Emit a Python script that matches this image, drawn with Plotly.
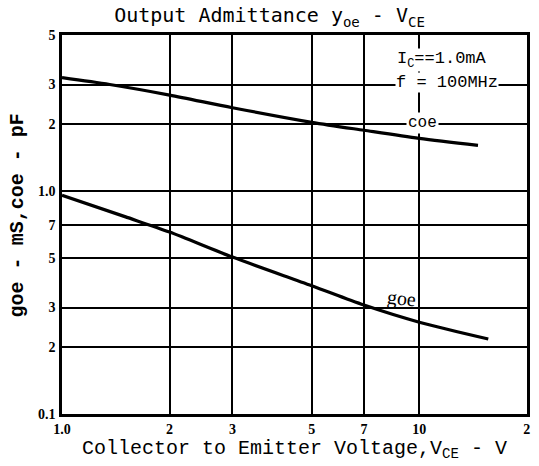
import plotly.graph_objects as go

# ---- data ----
vce_coe = [1.0, 1.36, 2, 3, 5, 7, 10, 14.6]
coe_pf = [3.22, 3.0, 2.69, 2.36, 2.03, 1.87, 1.72, 1.6]

vce_goe = [1.0, 1.5, 2, 3, 5, 7, 10, 15.6]
goe_ms = [0.957, 0.767, 0.654, 0.505, 0.376, 0.308, 0.258, 0.217]

x_tickvals = [1, 2, 3, 5, 7, 10, 20]
x_ticktext = ["1.0", "2", "3", "5", "7", "10", "2"]
y_tickvals = [0.1, 0.2, 0.3, 0.5, 0.7, 1.0, 2, 3, 5]
y_ticktext = ["0.1", "2", "3", "5", "7", "1.0", "2", "3", "5"]

fig = go.Figure()
fig.add_trace(go.Scatter(x=vce_coe, y=coe_pf, mode="lines",
                         line=dict(color="black", width=3.2, shape="spline", smoothing=0.8),
                         showlegend=False, hoverinfo="skip"))
fig.add_trace(go.Scatter(x=vce_goe, y=goe_ms, mode="lines",
                         line=dict(color="black", width=3.2, shape="spline", smoothing=0.8),
                         showlegend=False, hoverinfo="skip"))

mono = "Liberation Mono"
fig.update_layout(
    width=539, height=466,
    margin=dict(l=62, r=9, t=35, b=52),
    paper_bgcolor="white", plot_bgcolor="white",
    title=dict(text="Output Admittance y<sub>oe</sub> - V<sub>CE</sub>",
               x=0.5, xanchor="center", y=0.982, yanchor="top",
               font=dict(family="DejaVu Sans Mono", size=20, color="black")),
    xaxis=dict(type="log", range=[0, 1.3015], tickvals=x_tickvals, ticktext=x_ticktext,
               showgrid=True, gridcolor="black", gridwidth=1.8,
               showline=True, linecolor="black", linewidth=2.5, mirror=True,
               ticks="", zeroline=False, ticklabeloverflow="allow",
               tickfont=dict(family="Liberation Sans Narrow", size=14, color="black", weight="bold"),
               title=dict(text="Collector to Emitter Voltage,V<sub>CE</sub> - V",
                          font=dict(family=mono, size=20, color="black"), standoff=0)),
    yaxis=dict(type="log", range=[-1, 0.699], tickvals=y_tickvals, ticktext=y_ticktext,
               showgrid=True, gridcolor="black", gridwidth=1.8,
               showline=True, linecolor="black", linewidth=2.5, mirror=True,
               ticks="", zeroline=False, ticklabelstandoff=1,
               tickfont=dict(family="Liberation Sans Narrow", size=14, color="black", weight="bold")),
)

# rotated y-axis title
fig.add_annotation(x=-0.096, y=0.525, xref="paper", yref="paper", text="goe - mS,coe - pF",
                   showarrow=False, textangle=-90, xanchor="center", yanchor="middle",
                   font=dict(family=mono, size=20, color="black", weight="bold"))

ann_font = dict(family=mono, size=17, color="black")
fig.add_annotation(x=1.064, y=0.585, xref="x", yref="y", text="I<sub>C</sub>==1.0mA",
                   showarrow=False, font=ann_font, bgcolor="white", borderpad=0,
                   xanchor="center", yanchor="middle")
fig.add_annotation(x=1.078, y=0.485, xref="x", yref="y", text="f = 100MHz",
                   showarrow=False, font=ann_font, bgcolor="white", borderpad=0,
                   xanchor="center", yanchor="middle")
fig.add_annotation(x=1.008, y=0.304, xref="x", yref="y", text="coe",
                   showarrow=False, font=dict(family=mono, size=16, color="black"),
                   bgcolor="white", borderpad=1, xanchor="center", yanchor="middle")
fig.add_annotation(x=0.95, y=-0.484, xref="x", yref="y", text="goe",
                   showarrow=False, textangle=6, xanchor="center", yanchor="middle",
                   font=dict(family="Liberation Serif", size=20, color="black"))

fig.write_html("out.html", config={"displayModeBar": False},
               post_script="document.body.style.margin='0';document.body.style.overflow='hidden';")
